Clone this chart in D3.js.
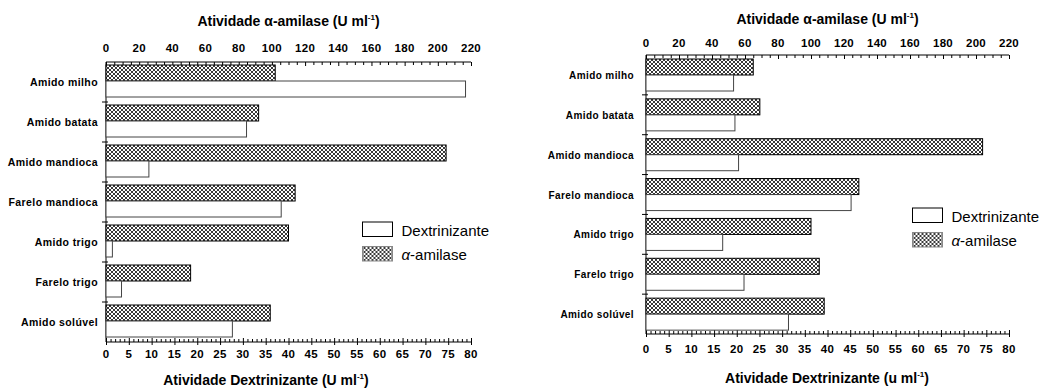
<!DOCTYPE html>
<html>
<head>
<meta charset="utf-8">
<script src="https://cdn.jsdelivr.net/npm/d3@7"></script>
<style>
  body { margin: 0; background: #fff; }
  svg { font-family: "Liberation Sans", Arial, sans-serif; }
  .cat { font-weight: bold; letter-spacing: 0.4px; }
  .tk { font-weight: bold; letter-spacing: 0.3px; }
  .ttl { font-weight: bold; }
</style>
</head>
<body>
<svg id="chart" width="1040" height="388"></svg>
<script>
var categories = ["Amido milho", "Amido batata", "Amido mandioca", "Farelo mandioca", "Amido trigo", "Farelo trigo", "Amido solúvel"];

// left panel
var amilaseA = [102, 92, 205, 114, 110, 51, 99];
var dextrA = [78.8, 30.8, 9.4, 38.4, 1.4, 3.4, 27.7];
// right panel
var amilaseB = [65, 69, 204, 129, 100, 105, 108];
var dextrB = [19.3, 19.6, 20.4, 45.2, 16.9, 21.6, 31.4];

var amilaseTicks = d3.range(0, 221, 20);
var dextrTicks = d3.range(0, 81, 5);
var legendLabels = ["Dextrinizante", "-amilase"];

var svg = d3.select("#chart");

var defs = svg.append("defs");
var pat = defs.append("pattern")
    .attr("id", "xh")
    .attr("width", 4).attr("height", 4)
    .attr("patternUnits", "userSpaceOnUse");
pat.append("rect").attr("width", 4).attr("height", 4).attr("fill", "#fff");
pat.append("path").attr("d", "M0,0L4,4M4,0L0,4M-1,3L1,5M3,-1L5,1")
    .attr("stroke", "#222").attr("stroke-width", 0.9);

function titleText(g, x, y, main, unit) {
    var t = g.append("text").attr("class", "ttl")
        .attr("x", x).attr("y", y)
        .attr("text-anchor", "middle")
        .attr("font-size", "14px");
    t.append("tspan").text(main + " (" + unit + " ml");
    t.append("tspan").attr("font-size", "8px").attr("dy", -6).text("-1");
    t.append("tspan").attr("dy", 6).text(")");
    return t;
}

function drawPanel(p) {
    var g = svg.append("g");

    var xa = d3.scaleLinear().domain([0, 220]).range([p.x0, p.x1]);
    var xd = d3.scaleLinear().domain([0, 80]).range([p.x0, p.x1]);
    var y = d3.scaleBand().domain(categories).range([p.top, p.bottom]);
    var bw = 16, off = p.off;

    // top axis (alpha-amilase)
    var topAx = g.append("g").attr("transform", "translate(0," + p.top + ")");
    topAx.call(d3.axisTop(xa).tickValues(d3.range(0, 221, 5)).tickSize(-3).tickFormat(""));
    topAx.selectAll(".tick line").filter(function (d) { return d % 20 == 0; }).attr("y2", 4);
    topAx.selectAll(".domain").attr("d", "M" + p.x0 + ",0H" + p.x1);
    g.append("g").selectAll("text")
        .data(amilaseTicks)
        .enter().append("text")
        .attr("class", "tk")
        .attr("x", function (d) { return xa(d); })
        .attr("y", p.top - p.topLab)
        .attr("text-anchor", "middle")
        .attr("font-size", "11.5px")
        .text(function (d) { return d; });

    // bottom axis (dextrinizante)
    var botAx = g.append("g").attr("transform", "translate(0," + p.bottom + ")");
    botAx.call(d3.axisBottom(xd).tickValues(d3.range(0, 81, 1)).tickSize(-3).tickFormat(""));
    botAx.selectAll(".tick line").filter(function (d) { return d % 5 == 0; }).attr("y2", -4).attr("y1", 3);
    botAx.selectAll(".domain").attr("d", "M" + p.x0 + ",0H" + p.x1);
    g.append("g").selectAll("text")
        .data(dextrTicks)
        .enter().append("text")
        .attr("class", "tk")
        .attr("x", function (d) { return xd(d); })
        .attr("y", p.bottom + p.botLab)
        .attr("text-anchor", "middle")
        .attr("font-size", "11.5px")
        .text(function (d) { return d; });

    // y axis line and separators
    g.append("line")
        .attr("x1", p.x0).attr("x2", p.x0)
        .attr("y1", p.top).attr("y2", p.bottom)
        .attr("stroke", "#000");
    g.append("g").selectAll("line")
        .data(categories.slice(1))
        .enter().append("line")
        .attr("x1", p.x0 - 4).attr("x2", p.x0 + 2)
        .attr("y1", function (d) { return y(d); })
        .attr("y2", function (d) { return y(d); })
        .attr("stroke", "#000");

    // category labels
    g.append("g").selectAll("text")
        .data(categories)
        .enter().append("text")
        .attr("class", "cat")
        .attr("x", p.x0 - p.labGap)
        .attr("y", function (d) { return y(d) + y.bandwidth() / 2 + 4; })
        .attr("text-anchor", "end")
        .attr("font-size", p.catSize)
        .text(function (d) { return d; });

    // bars
    g.append("g").selectAll("rect")
        .data(p.amilase)
        .enter().append("rect")
        .attr("x", p.x0)
        .attr("y", function (d, i) { return y(categories[i]) + off; })
        .attr("width", function (d) { return xa(d) - p.x0; })
        .attr("height", bw)
        .attr("fill", "url(#xh)")
        .attr("stroke", "#000")
        .attr("stroke-width", 1);

    g.append("g").selectAll("rect")
        .data(p.dextr)
        .enter().append("rect")
        .attr("x", p.x0)
        .attr("y", function (d, i) { return y(categories[i]) + off + bw; })
        .attr("width", function (d) { return xd(d) - p.x0; })
        .attr("height", bw)
        .attr("fill", "#fff")
        .attr("stroke", "#444")
        .attr("stroke-width", 1);

    g.selectAll(".domain, .tick line").attr("stroke", "#000");

    // titles
    titleText(g, (p.x0 + p.x1) / 2, p.topTitle, "Atividade \u03b1-amilase", "U");
    titleText(g, p.botTitleX, p.botTitle, "Atividade Dextrinizante", p.unit);

    // legend
    var lg = g.append("g").attr("transform", "translate(" + p.lx + "," + p.ly + ")");
    lg.append("rect").attr("x", 0).attr("y", 0).attr("width", 30).attr("height", 14.5)
        .attr("fill", "#fff").attr("stroke", "#000");
    lg.append("rect").attr("x", 0).attr("y", 24.5).attr("width", 30).attr("height", 14.5)
        .attr("fill", "url(#xh)").attr("stroke", "#888");
    lg.append("text").attr("x", 39).attr("y", 13.5).attr("font-size", "15px").text(legendLabels[0]);
    var t2 = lg.append("text").attr("x", 39).attr("y", 38).attr("font-size", "15px");
    t2.append("tspan").attr("font-style", "italic").text("\u03b1");
    t2.append("tspan").text(legendLabels[1]);
}

drawPanel({
    x0: 106, x1: 471, top: 62, bottom: 342, off: 3, labGap: 8, catSize: "10.5px",
    topLab: 10, botLab: 16, topTitle: 26, botTitle: 385, botTitleX: 266, unit: "U",
    amilase: amilaseA, dextr: dextrA, lx: 362.5, ly: 222
});

drawPanel({
    x0: 646, x1: 1009, top: 55, bottom: 334, off: 4, labGap: 12, catSize: "10px",
    topLab: 8, botLab: 19, topTitle: 24, botTitle: 383, botTitleX: 827, unit: "u",
    amilase: amilaseB, dextr: dextrB, lx: 912.5, ly: 208
});
</script>
</body>
</html>
